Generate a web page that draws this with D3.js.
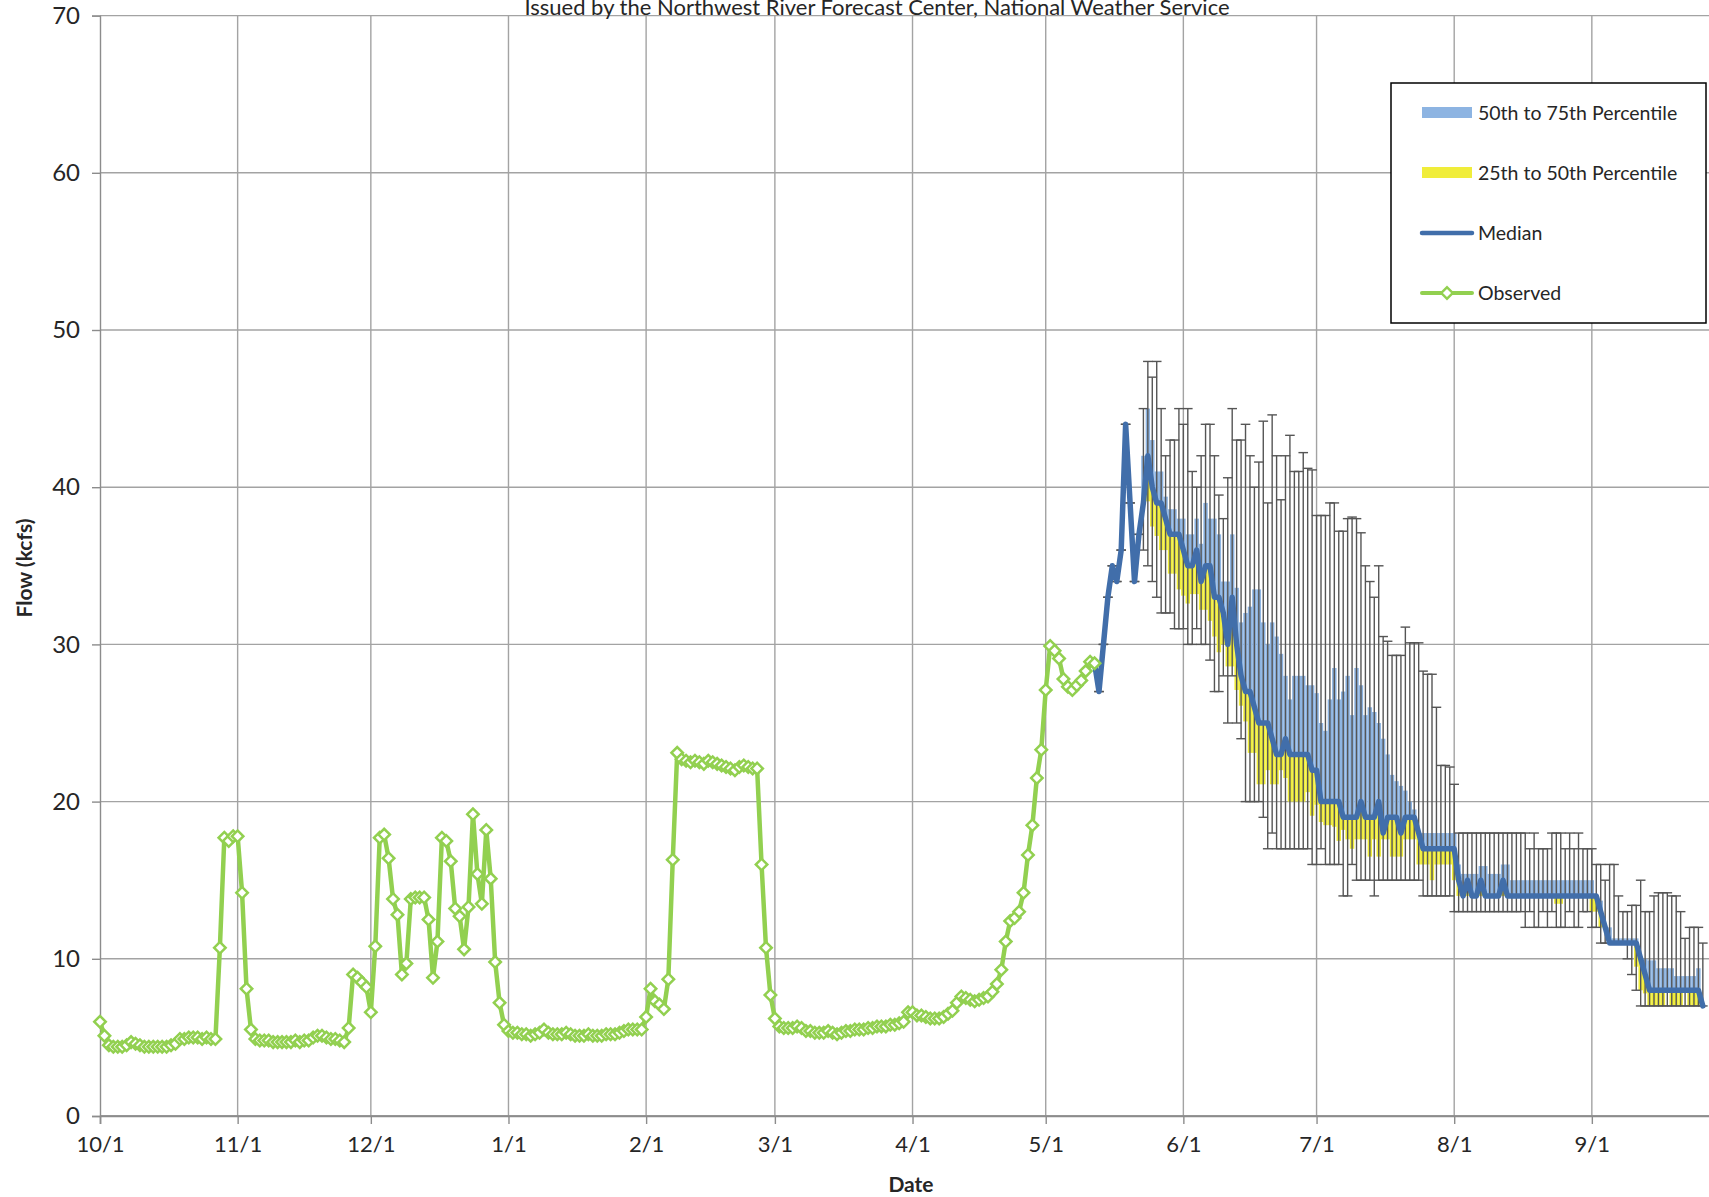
<!DOCTYPE html>
<html><head><meta charset="utf-8">
<script src="https://cdn.jsdelivr.net/npm/d3@7"></script>
<style>
html,body{margin:0;padding:0;background:#fff;}
svg{display:block;}
</style></head><body>
<svg id="chart" width="1709" height="1197"></svg>
<script>
// ---------------- data ----------------
const titleText = "Issued by the Northwest River Forecast Center, National Weather Service";
const xTitle = "Date";
const yTitle = "Flow (kcfs)";
const tickLabels = ["10/1","11/1","12/1","1/1","2/1","3/1","4/1","5/1","6/1","7/1","8/1","9/1"];
const tickDays   = [0,31,61,92,123,152,183,213,244,274,305,336];   // days since 10/1 (leap year)
const yTicks = [0,10,20,30,40,50,60,70];
const legendLabels = ["50th to 75th Percentile","25th to 50th Percentile","Median","Observed"];

// observed daily flow (kcfs), starting 10/1 (day 0)
const observed = [
 6.0,5.1,4.5,4.4,4.4,4.4,4.5,4.7,4.6,4.5,
 4.4,4.4,4.4,4.4,4.4,4.4,4.5,4.6,4.9,4.9,
 5.0,5.0,5.0,4.9,5.0,4.9,4.9,10.7,17.7,17.5,
 17.8,17.8,14.2,8.1,5.5,4.9,4.8,4.8,4.8,4.7,
 4.7,4.7,4.7,4.7,4.8,4.7,4.8,4.8,5.0,5.1,
 5.1,5.0,4.9,4.9,4.8,4.7,5.6,9.0,8.8,8.5,
 8.2,6.6,10.8,17.7,17.9,16.4,13.8,12.8,9.0,9.7,
 13.8,13.9,13.9,13.9,12.5,8.8,11.1,17.7,17.5,16.2,
 13.2,12.7,10.6,13.3,19.2,15.4,13.5,18.2,15.1,9.8,
 7.2,5.8,5.4,5.3,5.3,5.2,5.2,5.1,5.2,5.3,
 5.5,5.3,5.2,5.2,5.2,5.3,5.2,5.1,5.1,5.1,
 5.2,5.1,5.1,5.1,5.2,5.2,5.2,5.3,5.4,5.5,
 5.5,5.5,5.5,6.3,8.1,7.3,7.1,6.8,8.7,16.3,
 23.1,22.7,22.6,22.5,22.6,22.5,22.4,22.6,22.5,22.4,
 22.3,22.2,22.1,22.0,22.2,22.3,22.2,22.1,22.1,16.0,
 10.7,7.7,6.2,5.7,5.6,5.6,5.6,5.7,5.6,5.4,
 5.4,5.3,5.3,5.3,5.4,5.3,5.2,5.3,5.4,5.4,
 5.5,5.5,5.5,5.6,5.6,5.7,5.7,5.7,5.8,5.8,
 5.9,6.0,6.6,6.6,6.4,6.4,6.3,6.2,6.2,6.2,
 6.3,6.5,6.7,7.2,7.6,7.5,7.4,7.3,7.4,7.5,
 7.6,7.9,8.4,9.3,11.1,12.4,12.6,13.0,14.2,16.6,
 18.5,21.5,23.3,27.1,29.9,29.6,29.1,27.8,27.3,27.1,
 27.4,27.7,28.3,28.9,28.8
];

// forecast, starting at day 225 (5/13)
const forecastStartDay = 225;
const fcMedian = [
 27,30,33,35,34,36,44,39,34,37,
 39,42,40,39,39,38,37,37,37,36,
 35,35,36,34,35,35,33,33,32,30,
 33,30,28,27,27,26,25,25,25,24,
 23,23,24,23,23,23,23,23,22,22,
 20,20,20,20,20,19,19,19,19,20,
 19,19,19,20,18,19,19,19,18,19,
 19,19,18,17,17,17,17,17,17,17,
 17,15,14,15,14,14,15,14,14,14,
 14,15,14,14,14,14,14,14,14,14,
 14,14,14,14,14,14,14,14,14,14,
 14,14,14,13,12,11,11,11,11,11,
 11,11,10,9,8,8,8,8,8,8,
 8,8,8,8,8,8,7
];
const fcP75 = [
 27,30,33,35,34,36,44,39,34,37,
 42,45,43,41,41,39.4,38.6,38.6,38,38,
 37,37,38,36.4,39,38,38,37,34,34,
 37,33.6,31.4,32,32.4,33.5,33.5,31.4,30,31.4,
 30.5,29.4,28,26.5,28,28,28,27.4,27.4,26.9,
 25,24.5,26.5,28.5,26.5,27,28,25.5,28.5,27.4,
 25.5,26,25.7,25,24,23,21.7,21.3,21,20.7,
 20,19.5,18,18,18,18,18,18,18,18,
 18,16,15.4,15.4,15.4,15.4,15.9,15.9,15.4,15.4,
 15.4,16,16,15,15,15,15,15,15,15,
 15,15,15,15,15,15,15,15,15,15,
 15,15,14,13.7,12.1,12,11.3,11.3,11.3,11.3,
 11.3,11.3,10,10,9.9,9.9,9.4,9.4,9.4,9.4,
 8.9,8.9,8.9,8.9,8.9,9.4,7
];
const fcP25 = [
 27,30,33,35,34,36,44,39,34,37,
 39,39.1,37.5,36.9,36,36,34.5,34.5,33.5,33.1,
 32.6,33.2,33.2,32.2,32.2,31.5,30.5,29.5,30,28.6,
 28.6,27.1,26.1,25.1,23.1,23.1,21.1,21.1,22,21.1,
 21.1,22,21.5,20,20,20,20,20.6,19.1,19.8,
 18.7,18.5,18.5,18.4,17.5,18.2,17.6,17,17.6,17.6,
 17.6,16.5,17.6,16.5,17.6,17.6,16.5,16.5,16.5,17.6,
 17.6,17.6,16,16,16,15,16,16,16,16,
 15,14,14,14,14,14,14,14,14,14,
 14,14,14,14,14,14,14,14,14,14,
 14,14,14,13.5,13.5,14,14,14,14,14,
 14,13,13,12,12,11,11,11,11,11,
 11,9.5,8,7.8,7,7,7,7,8,7,
 7,7,8,7,7,7,7
];
const fcMax = [
 27,30,33,35,34,36,44,39,34,37,
 45,48,47,48,45,42,43,43,45,44,
 45,41,40,42,44,44,42,39.5,38,40.6,
 45,43,43,44,42,40,41.6,44.2,39,44.6,
 42,39.2,42,43.3,41,41,42.2,41.2,41.1,38.2,
 38.2,38.2,39,39,37.2,37.2,38,38.1,38,37.1,
 35,34,33,35,30.5,30.2,29.3,29.3,29.3,31.1,
 30.1,30.1,30.1,28.3,28.1,28.1,26,22.3,22.3,22.2,
 21.1,18,18,18,18,18,18,18,18,18,
 18,18,18,18,18,18,18,17,18,17,
 17,17,18,18,18,17,18,17,18,17,
 17,17,16,16,15,16,16,14,13,13,
 13.4,13.4,15,13,13,14,14.2,14.2,14.2,14,
 14,13,11.3,12,12,12,11
];
const fcMin = [
 27,30,33,35,34,36,44,39,34,37,
 36,35,34,33,32,32,32,31,31,31,
 30,30,31,30,30,29,27,27,28,25,
 28,25,24,20,20,20,20,19,17,18,
 17,17,17,17,17,17,17,17,16,16,
 17,16,16,16,16,14,14,16,15,15,
 15,15,14,15,15,15,15,15,15,15,
 15,15,15,14,14,14,14,14,14,14,
 13,13,13,13,13,13,13,13,13,13,
 13,13,13,13,13,13,12,13,12,12,
 13,12,13,12,12,12,13,12,12,13,
 13,12,12,11,11,11,11,11,11,10,
 9,8,7,7,7,7,7,7,7,7,
 7,7,7,7,7,7,7
];

// ---------------- layout ----------------
const W = 1709, H = 1197;
const plotLeft = 100, plotTop = 15.6, plotBottom = 1116, pxPerDay = 4.44;
const colors = {
  grid: "#a3a3a3", axis: "#8c8c8c", text: "#262626",
  blue: "#8db4e2", yellow: "#f0ed3a", median: "#416eaa",
  observed: "#92d050", whisker: "#555555"
};

const svg = d3.select("#chart");
const x = d3.scaleLinear().domain([0, 366]).range([plotLeft, plotLeft + 366 * pxPerDay]);
const y = d3.scaleLinear().domain([0, 70]).range([plotBottom, plotTop]);
const dayW = x(1) - x(0);

svg.append("defs").append("clipPath").attr("id", "plotClip")
  .append("rect").attr("x", plotLeft - 8).attr("y", 0).attr("width", W - plotLeft + 8).attr("height", plotBottom + 2);

// gridlines
const grid = svg.append("g");
grid.selectAll("line.h").data(yTicks).join("line")
  .attr("x1", plotLeft).attr("x2", W)
  .attr("y1", d => y(d)).attr("y2", d => y(d))
  .attr("stroke", colors.grid).attr("stroke-width", 1.4);
grid.selectAll("line.v").data(tickDays.slice(1)).join("line")
  .attr("x1", d => x(d)).attr("x2", d => x(d))
  .attr("y1", plotTop).attr("y2", plotBottom)
  .attr("stroke", colors.grid).attr("stroke-width", 1.4);

// axes
const yAxis = d3.axisLeft(y).tickValues(yTicks).tickSize(8).tickPadding(12).tickFormat(d3.format("d"));
const gy = svg.append("g").attr("transform", `translate(${plotLeft},0)`).call(yAxis);
gy.select(".domain").attr("stroke", colors.axis).attr("stroke-width", 1.4);
gy.selectAll(".tick line").attr("stroke", colors.axis).attr("stroke-width", 1.4);
gy.selectAll(".tick text").attr("font-family", "Lato, 'Open Sans', sans-serif")
  .attr("font-size", 24).attr("fill", colors.text);

const xAxis = d3.axisBottom(x).tickValues(tickDays).tickSize(8).tickPadding(12)
  .tickFormat((d, i) => tickLabels[i]);
const gx = svg.append("g").attr("transform", `translate(0,${plotBottom})`).call(xAxis);
gx.select(".domain").attr("stroke", colors.axis).attr("stroke-width", 1.6);
gx.selectAll(".tick line").attr("stroke", colors.axis).attr("stroke-width", 1.4);
gx.selectAll(".tick text").attr("font-family", "Lato, 'Open Sans', sans-serif")
  .attr("font-size", 22).attr("fill", colors.text);
svg.append("line").attr("x1", plotLeft).attr("x2", W).attr("y1", plotBottom).attr("y2", plotBottom)
  .attr("stroke", colors.axis).attr("stroke-width", 1.6);

// forecast records
const fc = fcMedian.map((m, i) => ({
  d: forecastStartDay + i, med: m, p25: fcP25[i], p75: fcP75[i], lo: fcMin[i], hi: fcMax[i]
}));

const plot = svg.append("g").attr("clip-path", "url(#plotClip)");

// percentile bars
plot.append("g").selectAll("rect").data(fc.filter(r => r.p75 > r.med)).join("rect")
  .attr("x", r => x(r.d) - dayW / 2).attr("width", dayW)
  .attr("y", r => y(r.p75)).attr("height", r => y(r.med) - y(r.p75))
  .attr("fill", colors.blue);
plot.append("g").selectAll("rect").data(fc.filter(r => r.p25 < r.med)).join("rect")
  .attr("x", r => x(r.d) - dayW / 2).attr("width", dayW)
  .attr("y", r => y(r.med)).attr("height", r => y(r.p25) - y(r.med))
  .attr("fill", colors.yellow);

// whiskers
const capHalf = 4.8;
const wg = plot.append("g").attr("stroke", colors.whisker).attr("stroke-width", 1.4).attr("fill", "none");
wg.selectAll("line.w").data(fc).join("line")
  .attr("x1", r => x(r.d)).attr("x2", r => x(r.d))
  .attr("y1", r => y(r.lo)).attr("y2", r => y(r.hi));
wg.selectAll("line.t").data(fc).join("line")
  .attr("x1", r => x(r.d) - capHalf).attr("x2", r => x(r.d) + capHalf)
  .attr("y1", r => y(r.hi)).attr("y2", r => y(r.hi));
wg.selectAll("line.b").data(fc).join("line")
  .attr("x1", r => x(r.d) - capHalf).attr("x2", r => x(r.d) + capHalf)
  .attr("y1", r => y(r.lo)).attr("y2", r => y(r.lo));

// median line (joined to the last observation)
const lastObsDay = observed.length - 1;
const medPts = [{ d: lastObsDay, v: observed[lastObsDay] }].concat(fc.map(r => ({ d: r.d, v: r.med })));
const line = d3.line().x(p => x(p.d)).y(p => y(p.v));
plot.append("path").datum(medPts).attr("d", line)
  .attr("fill", "none").attr("stroke", colors.median).attr("stroke-width", 5.5)
  .attr("stroke-linejoin", "round").attr("stroke-linecap", "round");

// observed
const obsPts = observed.map((v, i) => ({ d: i, v }));
plot.append("path").datum(obsPts).attr("d", line)
  .attr("fill", "none").attr("stroke", colors.observed).attr("stroke-width", 4.5)
  .attr("stroke-linejoin", "round");
const diamond = d3.symbol().type(d3.symbolSquare).size(66);
plot.append("g").selectAll("path").data(obsPts).join("path")
  .attr("d", diamond)
  .attr("transform", p => `translate(${x(p.d)},${y(p.v)}) rotate(45)`)
  .attr("fill", "#fff").attr("stroke", colors.observed).attr("stroke-width", 2.5);

// titles
svg.append("text").attr("x", 877).attr("y", 15).attr("text-anchor", "middle")
  .attr("font-family", "Lato, 'Open Sans', sans-serif").attr("font-size", 22).attr("fill", colors.text)
  .text(titleText);
svg.append("text").attr("x", 911).attr("y", 1192).attr("text-anchor", "middle")
  .attr("font-family", "Lato, 'Open Sans', sans-serif").attr("font-size", 21).attr("font-weight", "bold")
  .attr("fill", colors.text).text(xTitle);
svg.append("text").attr("transform", "translate(32,568) rotate(-90)").attr("text-anchor", "middle")
  .attr("font-family", "Lato, 'Open Sans', sans-serif").attr("font-size", 21).attr("font-weight", "bold")
  .attr("fill", colors.text).text(yTitle);

// legend
const lg = svg.append("g").attr("transform", "translate(1391,83)");
lg.append("rect").attr("width", 315).attr("height", 240).attr("fill", "#fff")
  .attr("stroke", "#000").attr("stroke-width", 1.5);
const rowY = [30, 90, 150, 210];
lg.append("rect").attr("x", 31).attr("y", rowY[0] - 6).attr("width", 50).attr("height", 11).attr("fill", colors.blue);
lg.append("rect").attr("x", 31).attr("y", rowY[1] - 6).attr("width", 50).attr("height", 11).attr("fill", colors.yellow);
lg.append("line").attr("x1", 31).attr("x2", 81).attr("y1", rowY[2]).attr("y2", rowY[2])
  .attr("stroke", colors.median).attr("stroke-width", 4.5).attr("stroke-linecap", "round");
lg.append("line").attr("x1", 31).attr("x2", 81).attr("y1", rowY[3]).attr("y2", rowY[3])
  .attr("stroke", colors.observed).attr("stroke-width", 4).attr("stroke-linecap", "round");
lg.append("path").attr("d", diamond).attr("transform", `translate(56,${rowY[3]}) rotate(45)`)
  .attr("fill", "#fff").attr("stroke", colors.observed).attr("stroke-width", 2.4);
lg.selectAll("text").data(legendLabels).join("text")
  .attr("x", 87).attr("y", (d, i) => rowY[i]).attr("dy", "0.35em")
  .attr("font-family", "Lato, 'Open Sans', sans-serif").attr("font-size", 19.5).attr("fill", colors.text)
  .text(d => d);
</script>
</body></html>
